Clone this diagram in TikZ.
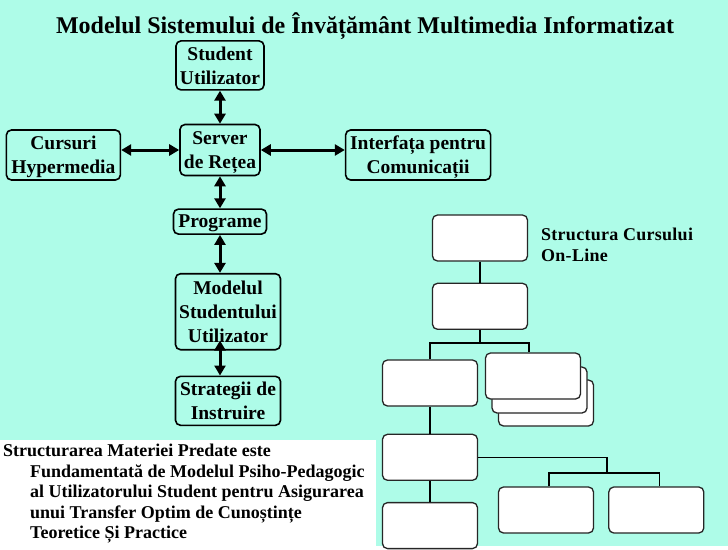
\documentclass[tikz,border=0pt]{standalone}
\usepackage{fontspec}
\setmainfont{Liberation Serif}
\usepackage{tikz}
\usetikzlibrary{arrows.meta,positioning}

\definecolor{slidebg}{RGB}{174,252,232}

\begin{document}
\begin{tikzpicture}[
    x=1pt, y=-1pt,
    box/.style={draw, thick, line width=1.6pt, rounded corners=5pt, align=center,
                font=\bfseries\fontsize{19.5}{24}\selectfont, inner sep=1pt, text depth=0pt},
    blank/.style={draw=black!85, line width=1.3pt, rounded corners=5pt, fill=white,
                  minimum width=95pt, minimum height=46pt},
    link/.style={{Triangle[width=11pt,length=10pt]}-{Triangle[width=11pt,length=10pt]}, line width=3pt},
    tree/.style={line width=1.6pt}
]

% background and note area
\fill[slidebg] (0,0) rectangle (728,546);
\fill[white] (0,440) rectangle (376,546);

\node[font=\bfseries\fontsize{24}{28}\selectfont] (title) at (365,26)
    {Modelul Sistemului de Învățământ Multimedia Informatizat};

% model of the system
\node[box, minimum width=80pt, minimum height=51pt] (server) at (220,150) {Server\\de Rețea};
\node[box, minimum width=88pt, minimum height=49pt, above=33pt of server] (student) {Student\\Utilizator};
\node[box, minimum width=114pt, minimum height=50pt, left=58pt of server, yshift=-5pt] (cursuri) {Cursuri\\Hypermedia};
\node[box, minimum width=145pt, minimum height=50pt, right=84pt of server, yshift=-5pt] (interfata) {Interfața pentru\\Comunicații};
\node[box, minimum width=93pt, minimum height=25pt, below=32pt of server] (programe) {Programe};
\node[box, minimum width=105pt, minimum height=76pt, below=38pt of programe, xshift=8pt] (modelul) {Modelul\\Studentului\\Utilizator};
\node[box, minimum width=105pt, minimum height=49pt, below=25pt of modelul] (strategii) {Strategii de\\Instruire};

\draw[link] (student) -- (server);
\draw[link] (cursuri.east |- server) -- (server);
\draw[link] (server) -- (interfata.west |- server);
\draw[link] (server) -- (programe);
\draw[link] (programe.south) -- (programe.south |- modelul.north);
\draw[link] ([yshift=10pt]modelul.south -| programe.south) -- (strategii.north -| programe.south);

% structure of the on-line course
\node[blank] (curs) at (480,238) {};
\node[blank, below=21pt of curs] (capitol) {};
\node[blank] (sectiune) at (430,383) {};
\node[blank] (pagina3) at (546,403) {};
\node[blank] (pagina2) at (539.5,390) {};
\node[blank] (pagina) at (533,376) {};
\node[blank, below=27pt of sectiune] (lectie) {};
\node[blank, below=21pt of lectie] (test) {};
\node[blank] (exemplu) at (546,510) {};
\node[blank, right=14pt of exemplu] (exercitiu) {};

\node[anchor=north west, align=left, inner sep=0pt,
      font=\bfseries\fontsize{18}{21}\selectfont\addfontfeatures{LetterSpace=1.5}] (structura)
    at (541,228) {Structura Cursului\\On-Line};

\coordinate (fork) at ([yshift=-13pt]capitol.south);
\coordinate (split) at (607,473);

\draw[tree] (curs) -- (capitol);
\draw[tree] (capitol) -- (fork);
\draw[tree] (sectiune.north) |- (fork) -| ([xshift=-4pt]pagina.north);
\draw[tree] (sectiune) -- (lectie);
\draw[tree] (lectie) -- (test);
\draw[tree] (lectie.east) -| (split);
\draw[tree] ([xshift=3pt]exemplu.north) |- (split) -| ([xshift=3pt]exercitiu.north);

% note
\node[anchor=north west, align=left, inner sep=0pt, font=\bfseries\fontsize{18}{20.5}\selectfont] (nota) at (3,444)
    {Structurarea Materiei Predate este\\
     \hspace*{27pt}Fundamentată de Modelul Psiho-Pedagogic\\
     \hspace*{27pt}al Utilizatorului Student pentru Asigurarea\\
     \hspace*{27pt}unui Transfer Optim de Cunoștințe\\
     \hspace*{27pt}Teoretice Și Practice};

\end{tikzpicture}
\end{document}
